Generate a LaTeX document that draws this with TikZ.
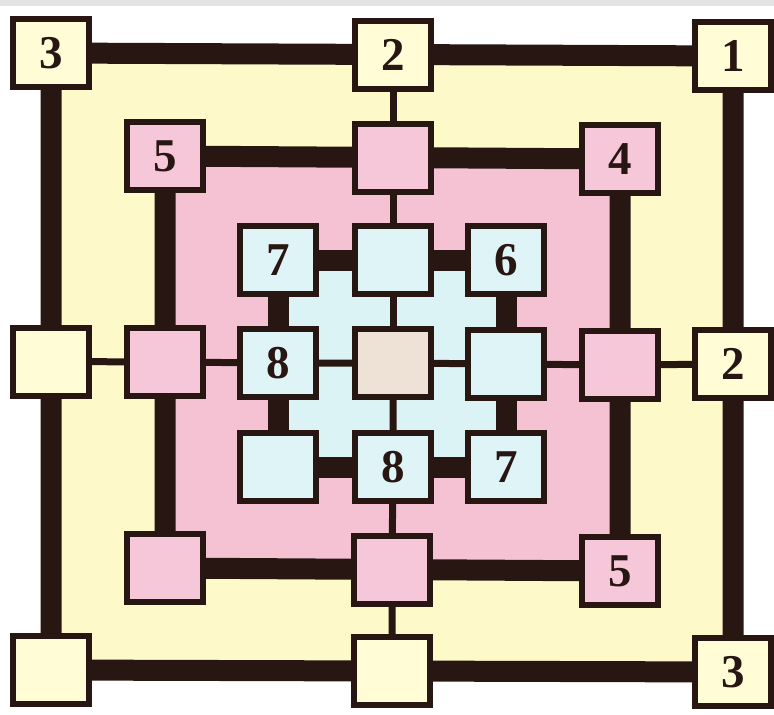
\documentclass[tikz,border=0pt]{standalone}
\usepackage{fontspec}
\setmainfont{Liberation Serif}
\usetikzlibrary{backgrounds}
\definecolor{dk}{RGB}{40,22,18}
\definecolor{ylw}{RGB}{254,249,200}
\definecolor{ylwbox}{RGB}{255,252,214}
\definecolor{pnk}{RGB}{245,194,212}
\definecolor{pnkbox}{RGB}{246,199,217}
\definecolor{cyn}{RGB}{220,243,246}
\definecolor{cynbox}{RGB}{222,244,247}
\definecolor{beige}{RGB}{238,226,214}
\definecolor{topgray}{RGB}{228,228,228}
\begin{document}
\begin{tikzpicture}[x=1pt,y=-1pt,
  box/.style={draw=dk,line width=6pt,minimum width=76pt,minimum height=68pt,inner sep=0pt,outer sep=0pt,
    font=\fontsize{47}{47}\selectfont\bfseries,text=dk},
  ybox/.style={box,fill=ylwbox},
  pbox/.style={box,fill=pnkbox},
  cbox/.style={box,fill=cynbox},
  mbox/.style={box,fill=beige},
  thickbar/.style={draw=dk,line width=21pt},
  thinbar/.style={draw=dk,line width=7pt}]
\useasboundingbox (0,0) rectangle (774,715);
% outer ring
\node[ybox] (o1) at (51,53) {3};
\node[ybox] (o2) at (393,54.5) {2};
\node[ybox] (o3) at (733,56) {1};
\node[ybox] (o4) at (51,361.5) {};
\node[ybox] (o5) at (733,364) {2};
\node[ybox] (o6) at (51,670) {};
\node[ybox] (o7) at (392,671) {};
\node[ybox] (o8) at (733,672) {3};
% middle ring
\node[pbox] (m1) at (165,156) {5};
\node[pbox] (m2) at (393,157.5) {};
\node[pbox] (m3) at (620,159) {4};
\node[pbox] (m4) at (165,362) {};
\node[pbox] (m5) at (620,365) {};
\node[pbox] (m6) at (165,568) {};
\node[pbox] (m7) at (392,569.5) {};
\node[pbox] (m8) at (620,571) {5};
% inner ring
\node[cbox] (i1) at (278,260) {7};
\node[cbox] (i2) at (393,260) {};
\node[cbox] (i3) at (506,260) {6};
\node[cbox] (i4) at (278,363) {8};
\node[mbox] (c) at (393,363) {};
\node[cbox] (i5) at (506,364) {};
\node[cbox] (i6) at (278,467) {};
\node[cbox] (i7) at (393,467) {8};
\node[cbox] (i8) at (506,467) {7};
\begin{scope}[on background layer]
  \fill[white] (0,0) rectangle (774,715);
  \fill[topgray] (0,0) rectangle (774,6);
  \fill[ylw] (o1.center) -- (o3.center) -- (o8.center) -- (o6.center) -- cycle;
  \fill[pnk] (m1.center) -- (m3.center) -- (m8.center) -- (m6.center) -- cycle;
  \fill[cyn] (i1.center) -- (i3.center) -- (i8.center) -- (i6.center) -- cycle;
  % thick square bars
  \draw[thickbar] (o1.center) -- (o2.center) -- (o3.center) -- (o5.center) -- (o8.center) -- (o7.center) -- (o6.center) -- (o4.center) -- cycle;
  \draw[thickbar] (m1.center) -- (m2.center) -- (m3.center) -- (m5.center) -- (m8.center) -- (m7.center) -- (m6.center) -- (m4.center) -- cycle;
  \draw[thickbar] (i1.center) -- (i2.center) -- (i3.center) -- (i5.center) -- (i8.center) -- (i7.center) -- (i6.center) -- (i4.center) -- cycle;
  % thin links
  \draw[thinbar] (o2.center) -- (m2.center) -- (i2.center) -- (c.center);
  \draw[thinbar] (o7.center) -- (m7.center) -- (i7.center) -- (c.center);
  \draw[thinbar] (o4.center) -- (m4.center) -- (i4.center) -- (c.center);
  \draw[thinbar] (o5.center) -- (m5.center) -- (i5.center) -- (c.center);
\end{scope}
\end{tikzpicture}
\end{document}
